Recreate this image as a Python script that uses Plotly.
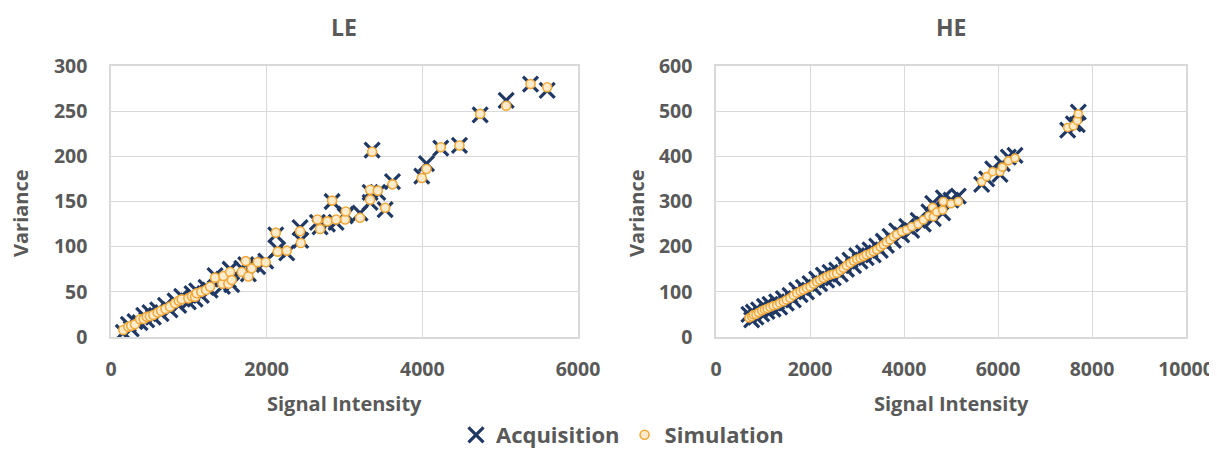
import plotly.graph_objects as go

# ---------------- DATA ----------------
le_signal = [158, 223, 260, 308, 373, 420, 459, 500, 544, 600, 643, 700, 758, 823, 870, 908, 994, 1040,
             1080, 1101, 1160, 1221, 1273, 1337, 1431, 1444, 1508, 1530, 1551, 1680, 1731, 1765, 1808,
             1885, 1988, 2117, 2142, 2258, 2429, 2438, 2652, 2686, 2781, 2841, 2892, 3008, 3016, 3200,
             3329, 3329, 3355, 3428, 3522, 3616, 3993, 4053, 4237, 4477, 4743, 5077, 5390, 5604]
le_sim = [7.8, 11.4, 12.5, 14, 19.6, 20, 22.5, 23, 24.4, 27, 29.1, 31, 33.6, 37.3, 40, 41.7, 42.8, 45,
          44.6, 48.4, 50, 52, 55.7, 65.7, 59, 67.5, 59, 72, 63, 72, 84, 67, 76, 82.7, 82.7, 115.5, 94.5,
          95.6, 117, 104, 130, 119.6, 128, 151, 130, 130, 139, 132, 163, 152, 205, 162, 143, 169, 176,
          186, 210, 212, 247, 256, 280, 276.5]
le_acq = [5, 14, 9, 17, 16, 24, 19, 27, 22, 30, 26, 35, 30, 40, 35, 45, 39, 48, 42, 51, 46, 55, 52, 68,
          56, 64, 63, 75, 58, 76, 80, 70, 80, 78, 84, 113, 97, 93, 121, 107, 127, 122, 125, 150, 127,
          134, 136, 137, 160, 149, 207, 160, 141, 172, 178, 192, 209, 212, 246, 262, 280, 273]

he_signal = [700, 759, 794, 850, 905, 972, 1030, 1085, 1149, 1215, 1291, 1355, 1433, 1495, 1574, 1645,
             1716, 1790, 1858, 1925, 2000, 2075, 2142, 2205, 2284, 2355, 2426, 2495, 2567, 2645, 2709,
             2775, 2851, 2925, 2993, 3065, 3135, 3195, 3277, 3345, 3418, 3495, 3560, 3625, 3702, 3775,
             3844, 3951, 4057, 4163, 4300, 4411, 4530, 4610, 4624, 4695, 4823, 4837, 5000, 5155, 5652,
             5759, 5887, 6043, 6092, 6220, 6362, 7482, 7603, 7687, 7709]
he_sim = [42, 45, 49, 50, 54, 58, 61, 63, 66, 69, 71, 75, 78, 82, 86, 92, 97, 101, 104, 108, 111, 117,
          122, 126, 130, 134, 137, 139, 141, 147, 152, 158, 163, 168, 172, 175, 178, 182, 185, 189, 193,
          199, 204, 210, 215, 222, 227, 233, 237, 244, 250, 259, 268, 287, 266, 277, 281, 300, 295, 300,
          344, 355, 366, 366, 376, 390, 396, 464, 467, 479, 494]
he_acq = [50, 38, 55, 44, 60, 51, 68, 57, 72, 62, 78, 66, 85, 75, 92, 82, 104, 94, 110, 100, 118, 110,
          128, 118, 137, 126, 143, 131, 148, 139, 160, 150, 170, 158, 180, 168, 186, 176, 193, 182, 201,
          192, 212, 203, 223, 214, 235, 226, 245, 236, 258, 250, 277, 296, 262, 287, 275, 308, 303, 312,
          338, 350, 372, 360, 384, 398, 402, 458, 472, 470, 498]

x_ticks_le = [0, 2000, 4000, 6000]
y_ticks_le = [0, 50, 100, 150, 200, 250, 300]
x_ticks_he = [0, 2000, 4000, 6000, 8000, 10000]
y_ticks_he = [0, 100, 200, 300, 400, 500, 600]

# ---------------- STYLE ----------------
NAVY = "#1F3864"
GOLD = "#F2A93B"
CREAM = "#FDEBCB"
GRAY = "#595959"
GRID = "#D9D9D9"
FONT = "Open Sans"

# The page body adds an 8px margin; the figure is sized and positioned to compensate.
OFF = 8
W, H = 1217 - OFF, 456 - OFF
def px_x(p):
    return (p - OFF) / W
def px_y(p):
    return 1 - (p - OFF) / H

fig = go.Figure()

acq_marker = dict(symbol="x-thin", size=15, color=NAVY, line=dict(width=3.2, color=NAVY))

fig.add_trace(go.Scatter(x=le_signal, y=le_acq, mode="markers", name="Acquisition",
                         marker=acq_marker, xaxis="x", yaxis="y", legendgroup="a"))
fig.add_trace(go.Scatter(x=he_signal, y=he_acq, mode="markers", name="Acquisition",
                         marker=acq_marker, xaxis="x2", yaxis="y2", legendgroup="a", showlegend=False))
fig.add_trace(go.Scatter(x=le_signal, y=le_sim, mode="markers", name="Simulation",
                         marker=dict(symbol="circle", size=9, color=CREAM, line=dict(width=1.6, color=GOLD)),
                         xaxis="x", yaxis="y", legendgroup="s"))
fig.add_trace(go.Scatter(x=he_signal, y=he_sim, mode="markers", name="Simulation",
                         marker=dict(symbol="circle", size=8, color=CREAM, line=dict(width=1.6, color=GOLD)),
                         xaxis="x2", yaxis="y2", legendgroup="s", showlegend=False))

axis_common = dict(showgrid=True, gridcolor=GRID, gridwidth=1.3, zeroline=False, showline=True,
                   linecolor=GRID, linewidth=1.5, mirror=True, ticks="", automargin=False,
                   tickfont=dict(family=FONT, size=19.5, color=GRAY, weight="bold"))

fig.update_layout(
    width=W, height=H, margin=dict(l=0, r=0, t=0, b=0, autoexpand=False),
    paper_bgcolor="white", plot_bgcolor="white",
    showlegend=True,
    legend=dict(orientation="h", x=px_x(456), y=0, xanchor="left", yanchor="bottom",
                font=dict(family=FONT, size=22, color=GRAY, weight="bold"),
                itemsizing="trace", itemwidth=30, tracegroupgap=0),
    xaxis=dict(domain=[px_x(111), px_x(578)], range=[0, 6000], tickvals=x_ticks_le, anchor="y",
               ticklabelstandoff=14, **axis_common),
    yaxis=dict(domain=[px_y(337), px_y(66)], range=[0, 300], tickvals=y_ticks_le, anchor="x",
               ticklabelstandoff=18, **axis_common),
    xaxis2=dict(domain=[px_x(716), px_x(1186)], range=[0, 10000], tickvals=x_ticks_he,
                ticktext=[str(v) for v in x_ticks_he], anchor="y2",
                ticklabelstandoff=14, **axis_common),
    yaxis2=dict(domain=[px_y(337), px_y(66)], range=[0, 600], tickvals=y_ticks_he, anchor="x2",
                ticklabelstandoff=18, **axis_common),
)

def label(text, x, y, size, angle=0, yanchor="middle"):
    fig.add_annotation(text=text, x=px_x(x), y=px_y(y), xref="paper", yref="paper",
                       showarrow=False, textangle=angle, xanchor="center", yanchor=yanchor,
                       font=dict(family=FONT, size=size, color=GRAY, weight="bold"))

label("LE", 344, 9, 23, yanchor="top")
label("HE", 951, 9, 23, yanchor="top")
label("Signal Intensity", 344, 403, 20)
label("Signal Intensity", 951, 403, 20)
label("Variance", 20, 213, 20, -90)
label("Variance", 636, 213, 20, -90)

fig.write_html("out.html")
